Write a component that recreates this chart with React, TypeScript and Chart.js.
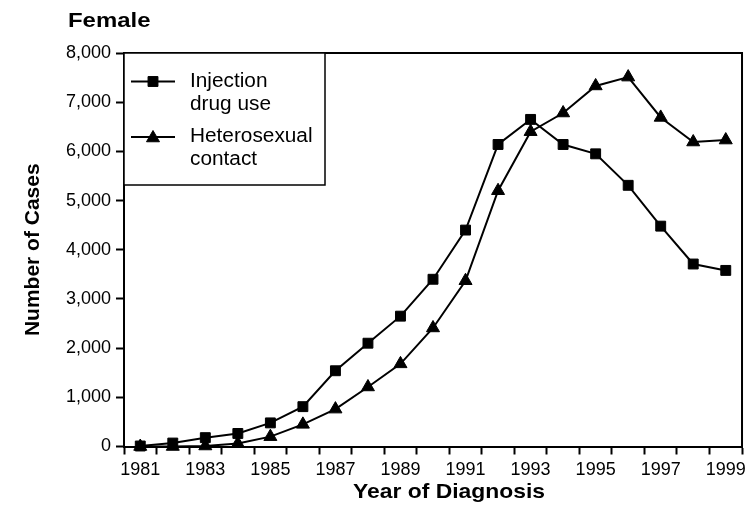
import React, { useEffect, useRef } from "react";
import { Chart, registerables } from "chart.js";

Chart.register(...registerables);

const years = [
  "1981", "1982", "1983", "1984", "1985", "1986", "1987", "1988", "1989", "1990",
  "1991", "1992", "1993", "1994", "1995", "1996", "1997", "1998", "1999",
];
const injectionDrugUse = [
  10, 70, 180, 265, 480, 810, 1540, 2100, 2650, 3400,
  4400, 6140, 6650, 6140, 5950, 5310, 4480, 3710, 3580,
];
const heterosexualContact = [
  0, 0, 10, 60, 200, 450, 760, 1210, 1680, 2410,
  3370, 5200, 6400, 6780, 7330, 7510, 6690, 6190, 6230,
];
const seriesLabels = [["Injection", "drug use"], ["Heterosexual", "contact"]];
const yTicks = [0, 1000, 2000, 3000, 4000, 5000, 6000, 7000, 8000];
const chartTitle = "Female";
const xTitle = "Year of Diagnosis";
const yTitle = "Number of Cases";

const FONT = "'Liberation Sans', Arial, Helvetica, sans-serif";

function fmt(v: number): string {
  return String(v).replace(/\B(?=(\d{3})+(?!\d))/g, ",");
}

function stretchedText(
  ctx: CanvasRenderingContext2D,
  text: string,
  x: number,
  y: number,
  sx: number,
  align: CanvasTextAlign
) {
  ctx.save();
  ctx.translate(x, y);
  ctx.scale(sx, 1);
  ctx.textAlign = align;
  ctx.textBaseline = "alphabetic";
  ctx.fillText(text, 0, 0);
  ctx.restore();
}

function drawMarker(ctx: CanvasRenderingContext2D, style: string, x: number, y: number, r: number) {
  ctx.beginPath();
  if (style === "rect") {
    const s = Math.SQRT1_2 * r;
    ctx.rect(x - s, y - s, 2 * s, 2 * s);
  } else {
    for (let k = 0; k < 3; k++) {
      const a = (k * 2 * Math.PI) / 3;
      const px = x + Math.sin(a) * r;
      const py = y - Math.cos(a) * r;
      if (k === 0) ctx.moveTo(px, py);
      else ctx.lineTo(px, py);
    }
    ctx.closePath();
  }
  ctx.fill();
  ctx.stroke();
}

const decorPlugin = {
  id: "decor",
  beforeDatasetsDraw(chart: any) {
    const { ctx, chartArea } = chart;
    ctx.save();
    ctx.strokeStyle = "#000";
    ctx.lineWidth = 2;
    ctx.beginPath();
    ctx.moveTo(chartArea.left, chartArea.top);
    ctx.lineTo(chartArea.right, chartArea.top);
    ctx.lineTo(chartArea.right, chartArea.bottom);
    ctx.stroke();
    ctx.restore();
  },
  afterDraw(chart: any) {
    const { ctx, chartArea } = chart;
    const L = chartArea.left;
    const T = chartArea.top;
    ctx.save();
    // legend box
    ctx.fillStyle = "#fff";
    ctx.fillRect(L, T, 201, 132);
    ctx.strokeStyle = "#000";
    ctx.lineWidth = 1.5;
    ctx.strokeRect(L, T, 201, 132);
    const rowsY = [T + 28.5, T + 84];
    const styles = ["rect", "triangle"];
    const radii = [7, 7.5];
    for (let i = 0; i < 2; i++) {
      const y = rowsY[i];
      ctx.strokeStyle = "#000";
      ctx.lineWidth = 2;
      ctx.beginPath();
      ctx.moveTo(L + 7, y);
      ctx.lineTo(L + 51, y);
      ctx.stroke();
      ctx.fillStyle = "#000";
      ctx.lineWidth = 1;
      drawMarker(ctx, styles[i], L + 29, y + (i === 1 ? 1 : 0), radii[i]);
      ctx.fillStyle = "#000";
      ctx.font = `20px ${FONT}`;
      const lines = seriesLabels[i];
      for (let j = 0; j < lines.length; j++) {
        stretchedText(ctx, lines[j], L + 66, y + 5 + j * 23, 1.04, "left");
      }
    }
    // titles
    ctx.fillStyle = "#000";
    ctx.font = `bold 21px ${FONT}`;
    stretchedText(ctx, chartTitle, 68, 27, 1.14, "left");
    stretchedText(ctx, xTitle, (chartArea.left + chartArea.right) / 2 + 16, 498, 1.09, "center");
    ctx.translate(39, (chartArea.top + chartArea.bottom) / 2);
    ctx.rotate(-Math.PI / 2);
    ctx.textAlign = "center";
    ctx.textBaseline = "alphabetic";
    ctx.fillText(yTitle, 0, 0);
    ctx.restore();
  },
};

export default function App() {
  const ref = useRef<HTMLCanvasElement | null>(null);
  useEffect(() => {
    document.body.style.margin = "0";
    const canvas = ref.current!;
    const chart = new Chart(canvas, {
      type: "line",
      data: {
        labels: years,
        datasets: [
          {
            label: seriesLabels[0].join(" "),
            data: injectionDrugUse,
            borderColor: "#000",
            backgroundColor: "#000",
            borderWidth: 2,
            pointStyle: "rect",
            pointRadius: 7,
            pointBorderWidth: 1,
            pointBackgroundColor: "#000",
            pointBorderColor: "#000",
            tension: 0,
            clip: false as any,
          },
          {
            label: seriesLabels[1].join(" "),
            data: heterosexualContact,
            borderColor: "#000",
            backgroundColor: "#000",
            borderWidth: 2,
            pointStyle: "triangle",
            pointRadius: 7.5,
            pointBorderWidth: 1,
            pointBackgroundColor: "#000",
            pointBorderColor: "#000",
            tension: 0,
            clip: false as any,
          },
        ],
      },
      options: {
        animation: false,
        responsive: false,
        devicePixelRatio: 1,
        layout: { padding: { top: 53, right: 7, left: 0, bottom: 0 } },
        plugins: {
          legend: { display: false },
          tooltip: { enabled: false },
          title: { display: false },
        },
        scales: {
          x: {
            type: "category",
            offset: true,
            grid: {
              display: true,
              offset: true,
              drawOnChartArea: false,
              drawTicks: true,
              tickLength: 8,
              tickWidth: 2,
              tickColor: "#000",
            },
            border: { display: true, color: "#000", width: 2 },
            ticks: {
              autoSkip: false,
              maxRotation: 0,
              minRotation: 0,
              padding: 5,
              color: "#000",
              font: { family: FONT, size: 18 },
              callback: (_v: any, i: number) => (i % 2 === 0 ? years[i] : ""),
            },
            afterFit: (scale: any) => {
              scale.height = 61.5;
            },
          },
          y: {
            min: 0,
            max: 8000,
            grid: {
              display: true,
              drawOnChartArea: false,
              drawTicks: true,
              tickLength: 8,
              tickWidth: 2,
              tickColor: "#000",
            },
            border: { display: true, color: "#000", width: 2 },
            afterBuildTicks: (scale: any) => {
              scale.ticks = yTicks.map((v) => ({ value: v }));
            },
            ticks: {
              padding: 5,
              color: "#000",
              font: { family: FONT, size: 18 },
              callback: (v: any) => fmt(Number(v)),
            },
            afterFit: (scale: any) => {
              scale.width = 124;
            },
          },
        },
      },
      plugins: [decorPlugin],
    });
    return () => chart.destroy();
  }, []);
  return (
    <div style={{ width: 751, height: 508 }}>
      <canvas ref={ref} width={751} height={508} style={{ display: "block" }} />
    </div>
  );
}
